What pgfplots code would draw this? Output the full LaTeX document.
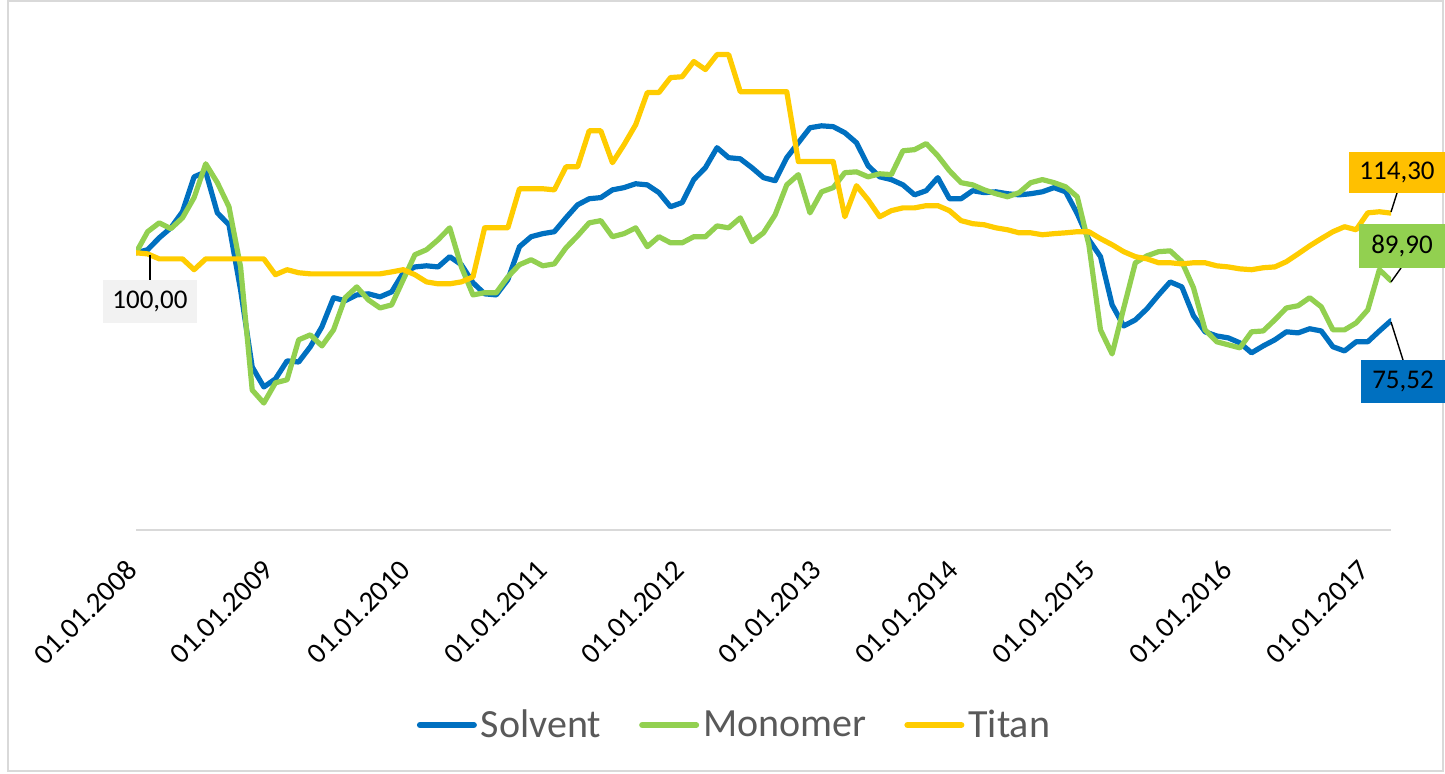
\documentclass[border=0pt]{standalone}
\usepackage{pgfplots}
\pgfplotsset{compat=1.18}
\usepackage{fontspec}
\setmainfont{Carlito}
\definecolor{solv}{HTML}{0070C0}
\definecolor{mono}{HTML}{92D050}
\definecolor{titan}{HTML}{FFCC00}
\definecolor{titanbox}{HTML}{FFC000}
\definecolor{axgray}{HTML}{D9D9D9}
\definecolor{leggray}{HTML}{595959}
\definecolor{boxgray}{HTML}{F2F2F2}
\begin{document}
\begin{tikzpicture}
\path[use as bounding box] (0,0) rectangle (722.5pt,386.5pt);
\begin{scope}[shift={(0,386.5pt)},x=0.5pt,y=-0.5pt]
\draw[axgray, line width=1pt] (8,1) rectangle (1443,771);
\end{scope}
\begin{axis}[
 at={(68pt,121.5pt)}, anchor=south west, scale only axis,
 width=627.5pt, height=249.5pt,
 xmin=0, xmax=108, ymin=0, ymax=180,
 axis y line=none, axis x line*=bottom,
 x axis line style={axgray, line width=1.2pt, -},
 ytick=\empty,
 xtick={0,11.782,23.564,35.345,47.127,58.909,70.691,82.473,94.255,106.036},
 xticklabels={01.01.2008,01.01.2009,01.01.2010,01.01.2011,01.01.2012,01.01.2013,01.01.2014,01.01.2015,01.01.2016,01.01.2017},
 major tick length=0pt,
 /pgf/number format/assume math mode=true,
 xticklabel style={font=\fontsize{14.5}{17}\selectfont, xshift=-5.5pt, yshift=-14pt, rotate=45, anchor=north east, inner sep=0pt},
 legend style={at={(axis description cs:0.4777,-0.3908)}, anchor=center, draw=none, fill=none,
   font=\fontsize{20}{24}\selectfont, text=leggray,
   /tikz/every even column/.append style={column sep=17pt}},
 legend columns=3,
 legend image code/.code={\draw[#1, line width=3pt, line cap=round] (0pt,0pt) -- (27pt,0pt);},
 every axis plot/.append style={line width=2.6pt, line join=round, line cap=round},
]
\addplot[solv] coordinates {
(0,100.0)(1,101.1)(2,105.4)(3,109.0)(4,114.8)(5,127.4)(6,129.2)(7,114.4)(8,110.1)(9,86.6)
(10,58.8)(11,51.6)(12,54.5)(13,61.0)(14,60.6)(15,66.1)(16,73.3)(17,83.8)(18,82.7)(19,84.8)
(20,85.2)(21,84.1)(22,85.9)(23,92.8)(24,94.9)(25,95.3)(26,94.9)(27,98.6)(28,95.7)(29,89.2)
(30,85.2)(31,84.8)(32,90.3)(33,102.2)(34,105.8)(35,106.9)(36,107.6)(37,112.6)(38,117.3)(39,119.5)
(40,119.9)(41,122.7)(42,123.5)(43,124.9)(44,124.5)(45,121.7)(46,116.6)(47,118.1)(48,126.4)(49,130.7)
(50,137.9)(51,134.3)(52,133.9)(53,130.7)(54,127.1)(55,126.0)(56,134.3)(57,139.7)(58,145.1)(59,145.8)
(60,145.5)(61,143.3)(62,139.7)(63,131.4)(64,127.4)(65,126.4)(66,124.5)(67,120.9)(68,122.4)(69,127.1)
(70,119.5)(71,119.5)(72,122.4)(73,121.7)(74,122.0)(75,121.3)(76,120.9)(77,121.3)(78,122.0)(79,123.5)
(80,122.0)(81,114.1)(82,104.7)(83,98.6)(84,81.2)(85,73.6)(86,75.8)(87,79.8)(88,84.8)(89,89.5)
(90,87.7)(91,77.3)(92,71.5)(93,70.0)(94,69.3)(95,67.5)(96,63.9)(97,66.4)(98,68.6)(99,71.5)
(100,71.1)(101,72.6)(102,71.8)(103,66.1)(104,64.6)(105,67.9)(106,67.9)(107,71.8)(108,75.52)
};
\addlegendentry{Solvent}
\addplot[mono] coordinates {
(0,100.0)(1,107.6)(2,110.8)(3,108.7)(4,112.6)(5,119.9)(6,132.1)(7,125.3)(8,116.6)(9,94.9)
(10,50.5)(11,45.8)(12,53.1)(13,54.2)(14,68.6)(15,70.4)(16,66.4)(17,72.2)(18,83.8)(19,87.7)
(20,83.0)(21,80.1)(22,81.2)(23,90.3)(24,99.3)(25,101.1)(26,104.7)(27,109.0)(28,94.9)(29,84.8)
(30,85.6)(31,85.6)(32,91.3)(33,95.7)(34,97.5)(35,95.3)(36,96.0)(37,101.8)(38,106.1)(39,110.8)
(40,111.6)(41,105.8)(42,106.9)(43,109.0)(44,102.2)(45,105.8)(46,103.6)(47,103.6)(48,105.8)(49,105.8)
(50,109.7)(51,109.0)(52,112.6)(53,104.0)(54,107.2)(55,113.7)(56,124.5)(57,128.2)(58,114.4)(59,122.0)
(60,123.5)(61,128.9)(62,129.2)(63,127.4)(64,128.5)(65,128.2)(66,136.8)(67,137.2)(68,139.4)(69,135.0)
(70,129.6)(71,125.3)(72,124.5)(73,122.7)(74,121.3)(75,120.2)(76,121.7)(77,125.3)(78,126.4)(79,125.3)
(80,123.8)(81,120.2)(82,102.9)(83,72.2)(84,63.5)(85,80.1)(86,96.4)(87,98.9)(88,100.4)(89,100.7)
(90,96.8)(91,87.4)(92,72.2)(93,67.9)(94,66.8)(95,65.7)(96,71.5)(97,71.8)(98,75.8)(99,80.1)
(100,80.9)(101,83.8)(102,80.5)(103,72.2)(104,72.2)(105,74.7)(106,79.4)(107,93.9)(108,89.90)
};
\addlegendentry{Monomer}
\addplot[titan] coordinates {
(0,100.0)(1,99.6)(2,97.8)(3,97.8)(4,97.8)(5,93.9)(6,97.8)(7,97.8)(8,97.8)(9,97.8)
(10,97.8)(11,97.8)(12,92.1)(13,93.9)(14,92.8)(15,92.4)(16,92.4)(17,92.4)(18,92.4)(19,92.4)
(20,92.4)(21,92.4)(22,93.1)(23,93.9)(24,92.1)(25,89.5)(26,88.8)(27,88.8)(28,89.5)(29,91.3)
(30,109.0)(31,109.0)(32,109.0)(33,123.1)(34,123.1)(35,123.1)(36,122.7)(37,131.0)(38,131.0)(39,144.0)
(40,144.0)(41,132.5)(42,139.0)(43,146.2)(44,157.8)(45,157.8)(46,163.2)(47,163.5)(48,169.0)(49,166.1)
(50,171.5)(51,171.5)(52,158.1)(53,158.1)(54,158.1)(55,158.1)(56,158.1)(57,132.9)(58,132.9)(59,132.9)
(60,132.9)(61,113.0)(62,124.2)(63,119.1)(64,113.0)(65,115.2)(66,116.2)(67,116.2)(68,117.0)(69,117.0)
(70,115.2)(71,111.6)(72,110.5)(73,110.1)(74,109.0)(75,108.3)(76,107.2)(77,107.2)(78,106.5)(79,106.9)
(80,107.2)(81,107.6)(82,107.6)(83,105.1)(84,102.9)(85,100.4)(86,98.6)(87,97.8)(88,96.4)(89,96.4)
(90,96.0)(91,96.4)(92,96.4)(93,95.3)(94,94.9)(95,94.2)(96,93.9)(97,94.6)(98,94.9)(99,96.8)
(100,99.6)(101,102.5)(102,105.1)(103,107.6)(104,109.4)(105,108.3)(106,114.4)(107,114.8)(108,114.30)
};
\addlegendentry{Titan}
\end{axis}
\begin{scope}[shift={(0,386.5pt)},x=0.5pt,y=-0.5pt, font=\fontsize{13.5}{16}\selectfont]
\draw[black, line width=0.7pt] (150,255) -- (150,280);
\node[fill=boxgray, minimum width=47pt, minimum height=21.5pt, inner sep=0pt] at (150,301.5) {100,00};
\draw[black, line width=0.7pt] (1391,212) -- (1397,193);
\node[fill=titanbox, minimum width=48pt, minimum height=20.5pt, inner sep=0pt] at (1397,172.5) {114,30};
\draw[black, line width=0.7pt] (1391,282) -- (1401,268);
\node[fill=mono, minimum width=43pt, minimum height=22pt, inner sep=0pt] at (1402,246) {89,90};
\draw[black, line width=0.7pt] (1391,322) -- (1403,360);
\node[fill=solv, minimum width=42pt, minimum height=21.5pt, inner sep=0pt] at (1403,381.5) {75,52};
\end{scope}
\end{tikzpicture}
\end{document}
